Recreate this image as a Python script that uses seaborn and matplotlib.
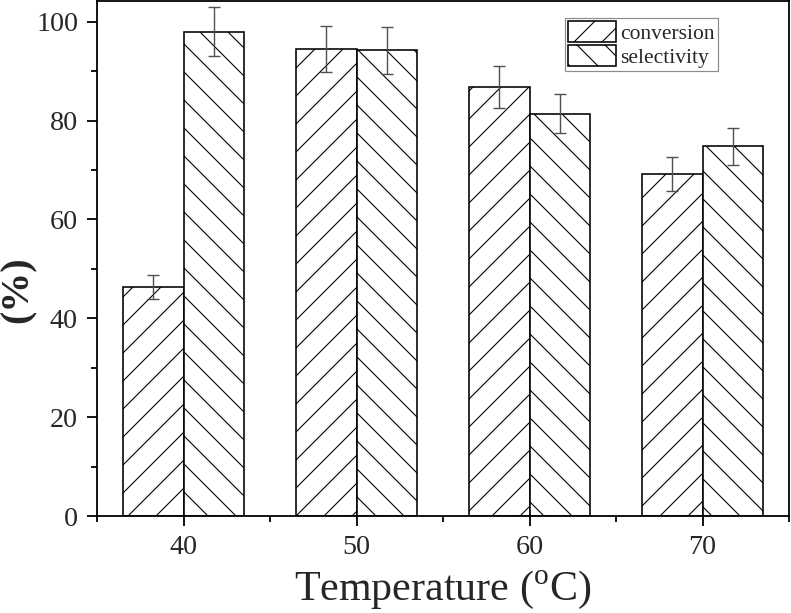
import matplotlib
matplotlib.use('Agg')
import matplotlib.pyplot as plt
import seaborn as sns
import pandas as pd
from matplotlib.ticker import MultipleLocator

# values
temps = [40, 50, 60, 70]
conversion = [46.4, 94.5, 86.8, 69.2]
conversion_err = [2.4, 4.7, 4.3, 3.5]
selectivity = [98.0, 94.2, 81.4, 74.8]
selectivity_err = [4.9, 4.7, 4.0, 3.7]
series_names = ['conversion', 'selectivity']
hatches = ['/', '\\']

# dpi 84 makes matplotlib's hatch spacing match the original (~14 px)
DPI = 84


def px(p):
    # pixel size -> points at this dpi
    return p * 72 / DPI


sns.set_style('ticks')
plt.rcParams['font.family'] = ['Liberation Serif', 'DejaVu Serif']
plt.rcParams['mathtext.fontset'] = 'custom'
plt.rcParams['mathtext.rm'] = 'Liberation Serif'
plt.rcParams['hatch.linewidth'] = px(1.1)
plt.rcParams['hatch.color'] = 'black'

df = pd.DataFrame({
    'Temperature': temps * 2,
    'value': conversion + selectivity,
    'series': [series_names[0]] * len(temps) + [series_names[1]] * len(temps),
})

fig = plt.figure(figsize=(791 / DPI, 613 / DPI), dpi=DPI)
ax = fig.add_axes([97 / 791, 1 - 516 / 613, 692 / 791, 515 / 613])

sns.barplot(data=df, x='Temperature', y='value', hue='series', native_scale=True,
            width=0.7, palette=['white', 'white'], edgecolor='black',
            linewidth=px(1.6), errorbar=None, legend=False, ax=ax)

for container, hatch, errs in zip(ax.containers, hatches, [conversion_err, selectivity_err]):
    for patch in container:
        patch.set_hatch(hatch)
        patch.set_facecolor('white')
        patch.set_edgecolor('black')
    xs = [p.get_x() + p.get_width() / 2 for p in container]
    ys = [p.get_height() for p in container]
    ax.errorbar(xs, ys, yerr=errs, fmt='none', ecolor='#505050',
                elinewidth=px(1.4), capsize=px(6), capthick=px(1.4), zorder=5)

ax.set_xlim(35, 75)
ax.set_ylim(0, 104.2)
ax.set_xticks(temps)
ax.set_xticklabels([str(t) for t in temps])
ax.xaxis.set_minor_locator(MultipleLocator(5))
ax.yaxis.set_major_locator(MultipleLocator(20))
ax.yaxis.set_minor_locator(MultipleLocator(10))

for side in ['top', 'right', 'left', 'bottom']:
    ax.spines[side].set_visible(True)
    ax.spines[side].set_linewidth(px(1.8))
    ax.spines[side].set_color('black')

ax.tick_params(axis='both', which='major', direction='out', length=px(10),
               width=px(1.8), labelsize=px(28), pad=px(9), color='black')
ax.tick_params(axis='both', which='minor', direction='out', length=px(6),
               width=px(1.8), color='black')
ax.tick_params(top=False, right=False, which='both')

ax.set_xlabel('Temperature ($^{\\mathrm{o}}$C)', fontsize=px(42), labelpad=px(9))
ax.set_ylabel('(%)', fontsize=px(40), fontweight='bold')
ax.yaxis.set_label_coords(-0.087, 0.44)

handles = [ax.containers[0][0], ax.containers[1][0]]
leg = ax.legend(handles, series_names, loc='upper right',
                bbox_to_anchor=((718 - 97) / 692, (516 - 18) / 515),
                fontsize=px(21.5), frameon=True, fancybox=False,
                handlelength=2.2, handleheight=1.12, handletextpad=0.22,
                labelspacing=0.04, borderpad=0.15, borderaxespad=0)
leg.get_frame().set_edgecolor('#707070')
leg.get_frame().set_linewidth(px(1.2))

fig.savefig('out.png', dpi=DPI)
